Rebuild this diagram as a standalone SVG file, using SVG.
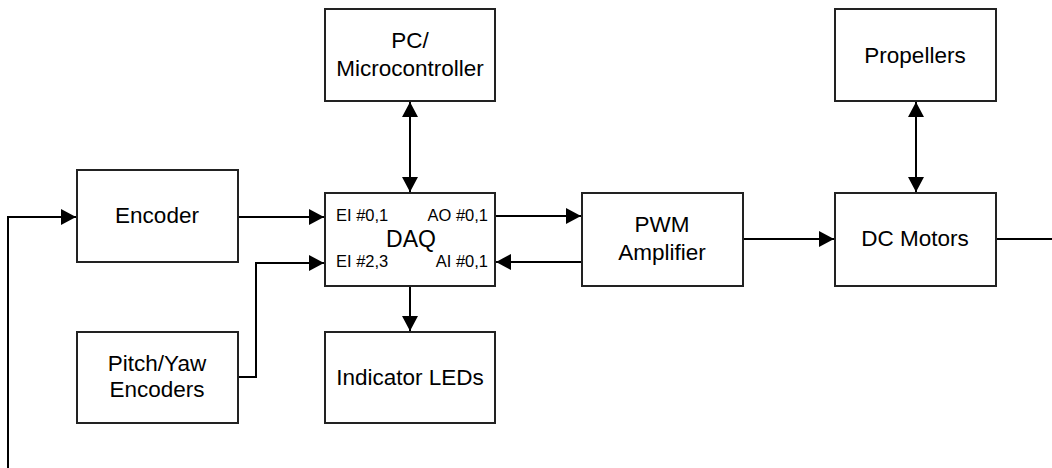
<svg xmlns="http://www.w3.org/2000/svg" width="1052" height="468" viewBox="0 0 1052 468">
<style>
.box{fill:#fff;stroke:#222;stroke-width:2}
.t{font-family:"Liberation Sans",Arial,sans-serif;font-size:22.5px;fill:#000;text-anchor:middle}
.s{font-family:"Liberation Sans",Arial,sans-serif;font-size:16.5px;fill:#000}
.c{fill:none;stroke:#000;stroke-width:2}
</style>
<defs>
<marker id="ah" markerUnits="userSpaceOnUse" markerWidth="16" markerHeight="16" viewBox="0 0 16 16" refX="15" refY="8" orient="auto-start-reverse">
<path d="M0,0 L15,8 L0,16 Z" fill="#000"/>
</marker>
</defs>
<g id="connectors">
<path class="c" d="M8,468 V217 H76" marker-end="url(#ah)"/>
<path class="c" d="M238,217 H324" marker-end="url(#ah)"/>
<path class="c" d="M238,377 H256 V263 H324" marker-end="url(#ah)"/>
<path class="c" d="M410,102 V192" marker-start="url(#ah)" marker-end="url(#ah)"/>
<path class="c" d="M410,286 V331" marker-end="url(#ah)"/>
<path class="c" d="M495,216 H581" marker-end="url(#ah)"/>
<path class="c" d="M582,262 H496" marker-end="url(#ah)"/>
<path class="c" d="M743,239 H834" marker-end="url(#ah)"/>
<path class="c" d="M916,102 V192" marker-start="url(#ah)" marker-end="url(#ah)"/>
<path class="c" d="M996,239 H1052"/>
</g>
<g id="encoder"><rect class="box" x="77" y="170" width="161" height="92"/><text class="t" x="157" y="223">Encoder</text></g>
<g id="pitchyaw"><rect class="box" x="77" y="332" width="161" height="91"/><text class="t" x="157" y="371">Pitch/Yaw</text><text class="t" x="157" y="397">Encoders</text></g>
<g id="pc"><rect class="box" x="325" y="9" width="170" height="92"/><text class="t" x="410" y="48">PC/</text><text class="t" x="410" y="76">Microcontroller</text></g>
<g id="daq"><rect class="box" x="325" y="193" width="170" height="93"/>
<text class="s" x="336" y="221">EI #0,1</text>
<text class="s" x="488" y="221" text-anchor="end">AO #0,1</text>
<text class="s" x="336" y="267">EI #2,3</text>
<text class="s" x="488" y="267" text-anchor="end">AI #0,1</text>
<text class="t" x="411" y="247" style="font-size:23px">DAQ</text></g>
<g id="leds"><rect class="box" x="325" y="332" width="170" height="91"/><text class="t" x="410" y="385">Indicator LEDs</text></g>
<g id="pwm"><rect class="box" x="582" y="193" width="161" height="93"/><text class="t" x="662" y="232">PWM</text><text class="t" x="662" y="260">Amplifier</text></g>
<g id="dcmotors"><rect class="box" x="835" y="193" width="161" height="93"/><text class="t" x="915" y="246">DC Motors</text></g>
<g id="propellers"><rect class="box" x="835" y="9" width="161" height="92"/><text class="t" x="915" y="63">Propellers</text></g>
</svg>
